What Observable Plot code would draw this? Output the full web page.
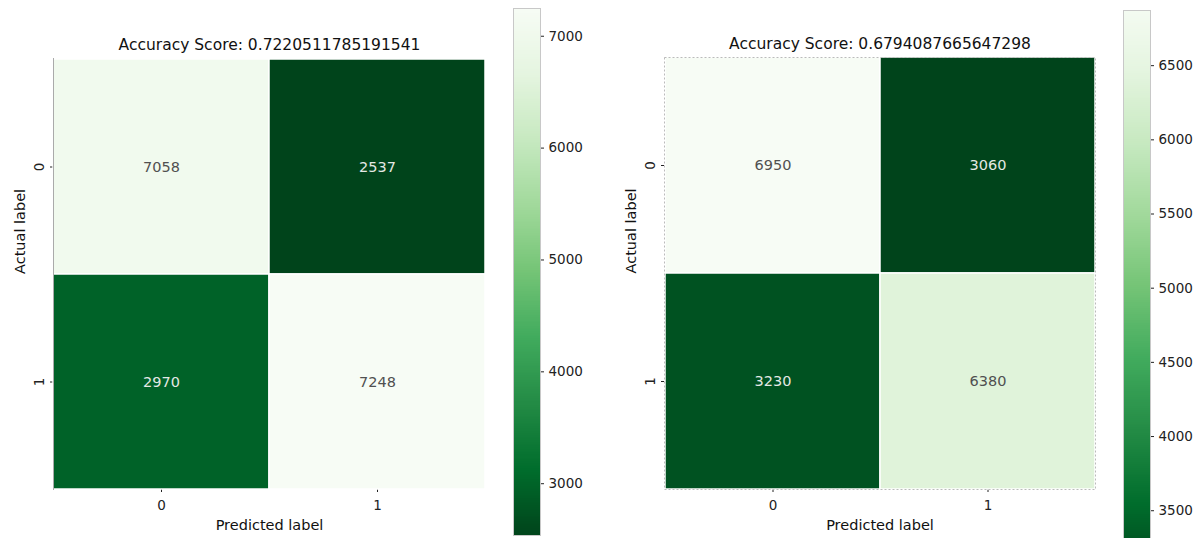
<!DOCTYPE html>
<html>
<head>
<meta charset="utf-8">
<script src="https://cdn.jsdelivr.net/npm/d3@7"></script>
<script src="https://cdn.jsdelivr.net/npm/@observablehq/plot@0.6"></script>
<style>
  body { margin: 0; background: #fff; }
  #chart { position: relative; width: 1201px; height: 538px; overflow: hidden; font-family: "DejaVu Sans", sans-serif; }
  #chart > svg { position: absolute; }
</style>
</head>
<body>
<div id="chart"></div>
<script>
// Class labels shared by both confusion matrices
const classLabels = ["0", "1"];

// Confusion matrices, rows = actual label, columns = predicted label
const countsA = [
  [7058, 2537],
  [2970, 7248]
];
const countsB = [
  [6950, 3060],
  [3230, 6380]
];

// Colorbar tick values
const colorbarTicksA = [3000, 4000, 5000, 6000, 7000];
const colorbarTicksB = [3500, 4000, 4500, 5000, 5500, 6000, 6500];

// "Greens" palette, reversed so that low counts are dark
const greens = ["#f7fcf5", "#e5f5e0", "#c7e9c0", "#a1d99b", "#74c476", "#41ab5d", "#238b45", "#006d2c", "#00441b"];
const greensR = greens.slice().reverse();

const FONT = "DejaVu Sans";
const root = document.getElementById("chart");

function greenScale(lo, hi) {
  const n = greensR.length - 1;
  return {
    type: "linear",
    domain: greensR.map((_, i) => lo + (i * (hi - lo)) / n),
    range: greensR,
    interpolate: "rgb"
  };
}

function place(svg, left, top) {
  svg.style.left = left + "px";
  svg.style.top = top + "px";
  root.appendChild(svg);
}

function heatmap(counts, opts) {
  const cells = counts.flatMap((row, i) =>
    row.map((value, j) => ({ actual: classLabels[i], predicted: classLabels[j], value }))
  );
  const lo = d3.min(cells, (d) => d.value);
  const hi = d3.max(cells, (d) => d.value);
  const correct = d3.sum(cells.filter((d) => d.actual === d.predicted), (d) => d.value);
  const accuracy = correct / d3.sum(cells, (d) => d.value);

  return Plot.plot({
    width: opts.width,
    height: 538,
    marginLeft: opts.marginLeft,
    marginRight: 15,
    marginTop: opts.marginTop,
    marginBottom: 49,
    style: { fontFamily: FONT, fontSize: "13.5px", color: "#222", background: "transparent" },
    x: { domain: classLabels, padding: 0, tickSize: 3, tickPadding: 8, label: null },
    y: { domain: classLabels, padding: 0, tickSize: 3, tickPadding: 7, tickRotate: -90, label: null },
    color: greenScale(lo, hi),
    marks: [
      Plot.cell(cells, { x: "predicted", y: "actual", fill: "value", stroke: "white", strokeWidth: 1.5 }),
      Plot.text(cells, {
        x: "predicted",
        y: "actual",
        text: (d) => String(d.value),
        fill: (d) => ((d.value - lo) / (hi - lo) > 0.5 ? "#505050" : "#e4e8e4"),
        fontSize: 14.5
      }),
      opts.frame,
      Plot.text([`Accuracy Score: ${accuracy}`], {
        text: (d) => d, frameAnchor: "top", lineAnchor: "middle", dy: -13, fontSize: 15.5, fill: "#111"
      }),
      Plot.text(["Predicted label"], {
        text: (d) => d, frameAnchor: "bottom", lineAnchor: "middle", dy: 36, fontSize: 14.5, fill: "#111"
      }),
      Plot.text(["Actual label"], {
        text: (d) => d, frameAnchor: "left", lineAnchor: "middle", dx: -33, rotate: -90, fontSize: 14.5, fill: "#111"
      })
    ]
  });
}

function colorbar(counts, ticks, opts) {
  const values = counts.flat();
  const lo = d3.min(values);
  const hi = d3.max(values);
  const n = 300;
  const bands = d3.range(n).map((i) => [lo + (i * (hi - lo)) / n, lo + ((i + 1) * (hi - lo)) / n]);

  return Plot.plot({
    width: opts.width,
    height: 538,
    marginLeft: 0,
    marginRight: opts.width - 27,
    marginTop: opts.marginTop,
    marginBottom: opts.marginBottom,
    style: { fontFamily: FONT, fontSize: "13.5px", color: "#222", background: "transparent" },
    x: { domain: [0, 1], axis: null },
    y: {
      domain: [lo, hi],
      range: opts.range,
      axis: "right",
      ticks,
      tickFormat: "d",
      tickSize: 3,
      tickPadding: 5,
      label: null
    },
    color: greenScale(lo, hi),
    marks: [
      Plot.rect(bands, {
        x1: 0, x2: 1,
        y1: (d) => d[0], y2: (d) => d[1],
        fill: (d) => (d[0] + d[1]) / 2,
        shapeRendering: "crispEdges",
        clip: true
      }),
      Plot.frame({ stroke: "#c8c8c8" })
    ]
  });
}

place(heatmap(countsA, { width: 500, marginLeft: 53, marginTop: 58, frame: Plot.frame({ anchor: "left", stroke: "#aaa" }) }), 0, 0);
place(colorbar(countsA, colorbarTicksA, { width: 86, marginTop: 8, marginBottom: 3 }), 513, 0);

place(heatmap(countsB, { width: 510, marginLeft: 64, marginTop: 57, frame: Plot.frame({ stroke: "#bbb", strokeDasharray: "2,2" }) }), 600, 0);
place(colorbar(countsB, colorbarTicksB, { width: 78, marginTop: 10, marginBottom: 0, range: [575.5, -1.6] }), 1123, 0);
</script>
</body>
</html>
